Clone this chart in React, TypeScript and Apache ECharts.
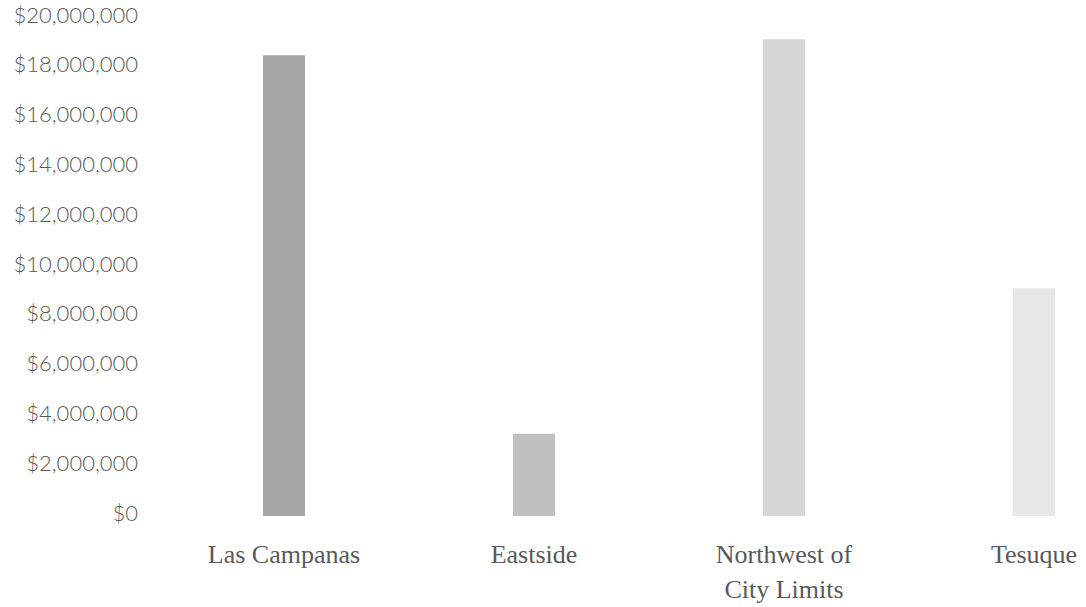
import React, { useEffect, useRef } from "react";
import * as echarts from "echarts";

const categories = ["Las Campanas", "Eastside", "Northwest of\nCity Limits", "Tesuque"];
const values = [18500000, 3300000, 19150000, 9150000];
const barColors = ["#a5a5a5", "#bfbfbf", "#d6d6d6", "#e7e7e7"];

export default function App() {
  const ref = useRef<HTMLDivElement>(null);
  useEffect(() => {
    const chart = echarts.init(ref.current!, undefined, { renderer: "svg" });
    chart.setOption({
      animation: false,
      grid: { left: 159, right: 0, top: 18, bottom: 90 },
      xAxis: {
        type: "category",
        data: categories,
        axisLine: { show: false },
        axisTick: { show: false },
        axisLabel: {
          color: "#595959",
          fontFamily: "Liberation Serif",
          fontSize: 26,
          lineHeight: 35,
          margin: 21,
        },
      },
      yAxis: {
        type: "value",
        min: 0,
        max: 20000000,
        interval: 2000000,
        splitLine: { show: false },
        axisLine: { show: false },
        axisTick: { show: false },
        axisLabel: {
          color: "#595959",
          fontFamily: "Lato",
          fontWeight: 300,
          fontSize: 22,
          margin: 21,
          formatter: (v: number) => "{a|$" + v.toLocaleString("en-US") + "}",
          rich: {
            a: {
              color: "#595959",
              fontFamily: "Lato",
              fontWeight: 300,
              fontSize: 22,
              padding: [0, 0, 8, 0],
            },
          },
        },
      },
      series: [
        {
          type: "bar",
          barWidth: 42,
          data: values.map((v, i) => ({ value: v, itemStyle: { color: barColors[i] } })),
        },
      ],
    });
    return () => chart.dispose();
  }, []);
  return (
    <div style={{ width: 1086, height: 607, position: "absolute", left: 0, top: 0, overflow: "hidden" }}>
      <div ref={ref} style={{ width: 1159, height: 607 }} />
    </div>
  );
}
